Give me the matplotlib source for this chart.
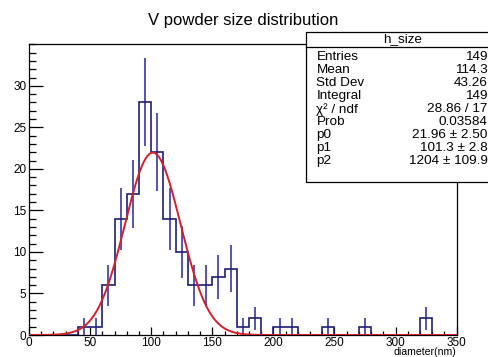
import numpy as np
import matplotlib
matplotlib.use("Agg")
import matplotlib.pyplot as plt
from matplotlib.patches import Rectangle
from matplotlib.ticker import MultipleLocator, FixedLocator

# ---- data ----
bin_edges = np.arange(0, 355, 10)
counts = [0, 0, 0, 0, 1, 1, 6, 14, 17, 28, 22, 14, 10, 6, 6, 7, 8, 1, 2, 0,
          1, 1, 0, 0, 1, 0, 0, 1, 0, 0, 0, 0, 2, 0, 0]
fit_const = 21.96
fit_mean = 101.3
fit_sigma = 22.8  # curve width

x_ticks = [0, 50, 100, 150, 200, 250, 300, 350]
y_ticks = [0, 5, 10, 15, 20, 25, 30]

title = "V powder size distribution"
xlabel = "diameter(nm)"
stats_name = "h_size"
stats_labels = ["Entries", "Mean", "Std Dev", "Integral", "\u03c7\u00b2 / ndf",
                "Prob", "p0", "p1", "p2"]
stats_values = ["149", "114.3", "43.26", "149", "28.86 / 17", "0.03584",
                "21.96 \u00b1 2.50", "101.3 \u00b1 2.8", "1204 \u00b1 109.9"]

plt.rcParams['font.family'] = ['Liberation Sans', 'DejaVu Sans']

W, H = 489, 357
fig = plt.figure(figsize=(W / 100, H / 100), dpi=100)

def fx(x):
    return x / W

def fy(y):
    return 1 - y / H

ax_l, ax_r, ax_t, ax_b = 29, 456.7, 44.3, 335
ax = fig.add_axes([fx(ax_l), fy(ax_b), fx(ax_r - ax_l), (ax_b - ax_t) / H])

counts_a = np.array(counts, dtype=float)
centers = 0.5 * (bin_edges[:-1] + bin_edges[1:])

ax.stairs(counts_a, bin_edges, color='#1e1e78', lw=1.2, zorder=3)
mask = counts_a > 0
err = np.sqrt(counts_a[mask])
ax.vlines(centers[mask], counts_a[mask] - err, counts_a[mask] + err,
          color='#4646b4', lw=1.3, zorder=2)

xc = np.linspace(0, 350, 701)
yc = fit_const * np.exp(-0.5 * ((xc - fit_mean) / fit_sigma) ** 2)
ax.plot(xc, yc, color='#d81e28', lw=1.4, zorder=4)

ax.set_xlim(0, 350)
ax.set_ylim(0, 35)
ax.xaxis.set_major_locator(FixedLocator(x_ticks))
ax.xaxis.set_minor_locator(MultipleLocator(10))
ax.yaxis.set_major_locator(FixedLocator(y_ticks))
ax.yaxis.set_minor_locator(MultipleLocator(1))
ax.tick_params(axis='x', which='major', direction='in', length=6, width=0.9,
               labelsize=8.5, pad=1.2, colors='black')
ax.tick_params(axis='x', which='minor', direction='in', length=3, width=0.9)
ax.tick_params(axis='y', which='major', direction='in', length=10, width=0.9,
               labelsize=8.5, pad=2)
ax.tick_params(axis='y', which='minor', direction='in', length=5, width=0.9)
for s in ax.spines.values():
    s.set_linewidth(0.9)
    s.set_color('black')

fig.text(fx(456.7), fy(357.3), xlabel, ha='right', va='bottom', fontsize=7.6)
fig.text(fx(243), fy(20.5), title, ha='center', va='center', fontsize=12)

# stats box
bx_l, bx_t, bx_b = 306, 32.3, 181.7
fig.patches.append(Rectangle((fx(bx_l), fy(bx_b)), fx(W + 10 - bx_l), (bx_b - bx_t) / H,
                             transform=fig.transFigure, facecolor='white',
                             edgecolor='black', lw=0.9, zorder=5))
fig.lines.append(plt.Line2D([fx(bx_l), 1.0], [fy(46.7), fy(46.7)],
                            transform=fig.transFigure, color='black', lw=0.9, zorder=6))
fig.text(fx(403), fy(39.3), stats_name, ha='center', va='center', fontsize=9.7, zorder=7)
row0, step = 56.9, 13.05
for i, (lab, val) in enumerate(zip(stats_labels, stats_values)):
    y = row0 + i * step
    fig.text(fx(316.5), fy(y), lab, ha='left', va='center', fontsize=9.7, zorder=7)
    fig.text(fx(487.5), fy(y), val, ha='right', va='center', fontsize=9.7, zorder=7)

fig.savefig("out.png", dpi=100)
